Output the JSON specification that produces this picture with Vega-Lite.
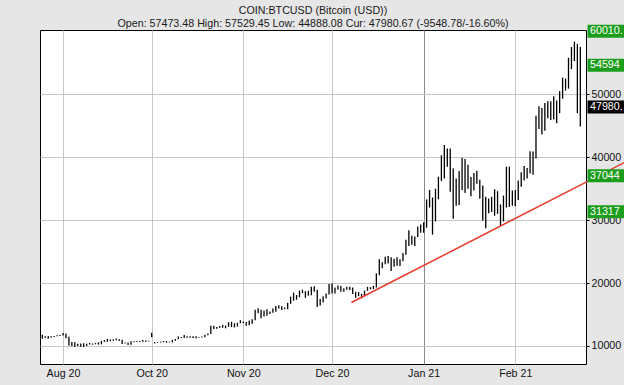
{
"$schema": "https://vega.github.io/schema/vega-lite/v6.json",
"width": 546, "height": 334,
"autosize": {"type": "none"},
"padding": {"left": 40, "top": 30, "right": 38, "bottom": 21},
"background": "#e6e6e6",
"config": {"view": {"fill": "white", "stroke": "black", "strokeWidth": 1}, "font": "Liberation Sans"},
"title": {"text": "COIN:BTCUSD (Bitcoin (USD))", "subtitle": "Open: 57473.48 High: 57529.45 Low: 44888.08 Cur: 47980.67 (-9548.78/-16.60%)", "anchor": "middle", "frame": "group", "font": "Liberation Sans", "fontSize": 10.7, "fontWeight": "normal", "color": "#1a1a1a", "subtitleFont": "Liberation Sans", "subtitleFontSize": 10.7, "subtitleColor": "#1a1a1a", "subtitlePadding": 2, "offset": -5},
"layer": [
{"data": {"values": [
{"d":"2020-08-25","h":11770,"l":11130},{"d":"2020-08-26","h":11540,"l":11260},{"d":"2020-08-27","h":11590,"l":11140},{"d":"2020-08-28","h":11550,"l":11290},{"d":"2020-08-29","h":11580,"l":11440},{"d":"2020-08-30","h":11720,"l":11540},{"d":"2020-08-31","h":11760,"l":11590},
{"d":"2020-09-01","h":12080,"l":11660},{"d":"2020-09-02","h":11970,"l":11220},{"d":"2020-09-03","h":11460,"l":10080},{"d":"2020-09-04","h":10650,"l":10000},{"d":"2020-09-05","h":10580,"l":9880},{"d":"2020-09-06","h":10350,"l":10000},{"d":"2020-09-07","h":10400,"l":9880},{"d":"2020-09-08","h":10440,"l":9850},{"d":"2020-09-09","h":10350,"l":10000},{"d":"2020-09-10","h":10500,"l":10220},{"d":"2020-09-11","h":10390,"l":10200},{"d":"2020-09-12","h":10460,"l":10270},{"d":"2020-09-13","h":10580,"l":10220},{"d":"2020-09-14","h":10800,"l":10260},{"d":"2020-09-15","h":10940,"l":10650},{"d":"2020-09-16","h":11100,"l":10670},{"d":"2020-09-17","h":11040,"l":10760},{"d":"2020-09-18","h":11050,"l":10820},{"d":"2020-09-19","h":11180,"l":10900},{"d":"2020-09-20","h":11080,"l":10800},{"d":"2020-09-21","h":10990,"l":10310},{"d":"2020-09-22","h":10550,"l":10380},{"d":"2020-09-23","h":10540,"l":10140},{"d":"2020-09-24","h":10770,"l":10200},{"d":"2020-09-25","h":10760,"l":10600},{"d":"2020-09-26","h":10740,"l":10640},{"d":"2020-09-27","h":10800,"l":10630},{"d":"2020-09-28","h":10950,"l":10690},{"d":"2020-09-29","h":10860,"l":10650},{"d":"2020-09-30","h":10840,"l":10700},
{"d":"2020-10-01","h":12100,"l":11380},{"d":"2020-10-02","h":10620,"l":10400},{"d":"2020-10-03","h":10600,"l":10500},{"d":"2020-10-04","h":10700,"l":10550},{"d":"2020-10-05","h":10800,"l":10600},{"d":"2020-10-06","h":10800,"l":10530},{"d":"2020-10-07","h":10690,"l":10560},{"d":"2020-10-08","h":10960,"l":10570},{"d":"2020-10-09","h":11100,"l":10820},{"d":"2020-10-10","h":11500,"l":11060},{"d":"2020-10-11","h":11440,"l":11260},{"d":"2020-10-12","h":11730,"l":11270},{"d":"2020-10-13","h":11560,"l":11310},{"d":"2020-10-14","h":11550,"l":11300},{"d":"2020-10-15","h":11530,"l":11270},{"d":"2020-10-16","h":11530,"l":11230},{"d":"2020-10-17","h":11420,"l":11300},{"d":"2020-10-18","h":11500,"l":11350},{"d":"2020-10-19","h":11800,"l":11400},{"d":"2020-10-20","h":12000,"l":11700},{"d":"2020-10-21","h":13200,"l":11900},{"d":"2020-10-22","h":13200,"l":12700},{"d":"2020-10-23","h":13030,"l":12720},{"d":"2020-10-24","h":13160,"l":12880},{"d":"2020-10-25","h":13350,"l":12900},{"d":"2020-10-26","h":13250,"l":12800},{"d":"2020-10-27","h":13780,"l":13050},{"d":"2020-10-28","h":13850,"l":13000},{"d":"2020-10-29","h":13620,"l":12950},{"d":"2020-10-30","h":13700,"l":13100},{"d":"2020-10-31","h":14100,"l":13620},
{"d":"2020-11-01","h":13900,"l":13600},{"d":"2020-11-02","h":13820,"l":13200},{"d":"2020-11-03","h":14050,"l":13300},{"d":"2020-11-04","h":14250,"l":13550},{"d":"2020-11-05","h":15750,"l":14100},{"d":"2020-11-06","h":15980,"l":15200},{"d":"2020-11-07","h":15770,"l":14400},{"d":"2020-11-08","h":15650,"l":14700},{"d":"2020-11-09","h":15850,"l":14800},{"d":"2020-11-10","h":15470,"l":15080},{"d":"2020-11-11","h":15950,"l":15270},{"d":"2020-11-12","h":16350,"l":15430},{"d":"2020-11-13","h":16480,"l":15960},{"d":"2020-11-14","h":16320,"l":15720},{"d":"2020-11-15","h":16100,"l":15850},{"d":"2020-11-16","h":16880,"l":15850},{"d":"2020-11-17","h":17850,"l":16700},{"d":"2020-11-18","h":18480,"l":17200},{"d":"2020-11-19","h":18100,"l":17350},{"d":"2020-11-20","h":18800,"l":17750},{"d":"2020-11-21","h":18950,"l":18400},{"d":"2020-11-22","h":18700,"l":17650},{"d":"2020-11-23","h":18770,"l":18000},{"d":"2020-11-24","h":19400,"l":18050},{"d":"2020-11-25","h":19480,"l":18600},{"d":"2020-11-26","h":18930,"l":16200},{"d":"2020-11-27","h":17450,"l":16450},{"d":"2020-11-28","h":17900,"l":16900},{"d":"2020-11-29","h":18350,"l":17550},{"d":"2020-11-30","h":19860,"l":18180},
{"d":"2020-12-01","h":19920,"l":18330},{"d":"2020-12-02","h":19300,"l":18350},{"d":"2020-12-03","h":19600,"l":18950},{"d":"2020-12-04","h":19550,"l":18600},{"d":"2020-12-05","h":19160,"l":18600},{"d":"2020-12-06","h":19420,"l":18930},{"d":"2020-12-07","h":19400,"l":18900},{"d":"2020-12-08","h":19300,"l":18250},{"d":"2020-12-09","h":18630,"l":17650},{"d":"2020-12-10","h":18560,"l":17920},{"d":"2020-12-11","h":18280,"l":17580},{"d":"2020-12-12","h":18800,"l":17900},{"d":"2020-12-13","h":19400,"l":18760},{"d":"2020-12-14","h":19350,"l":19000},{"d":"2020-12-15","h":19560,"l":19050},{"d":"2020-12-16","h":21550,"l":19300},{"d":"2020-12-17","h":23770,"l":21250},{"d":"2020-12-18","h":23300,"l":22350},{"d":"2020-12-19","h":24170,"l":23000},{"d":"2020-12-20","h":24300,"l":23100},{"d":"2020-12-21","h":24100,"l":21900},{"d":"2020-12-22","h":23850,"l":22600},{"d":"2020-12-23","h":24100,"l":22750},{"d":"2020-12-24","h":23800,"l":22700},{"d":"2020-12-25","h":24780,"l":23450},{"d":"2020-12-26","h":26870,"l":24500},{"d":"2020-12-27","h":28400,"l":25900},{"d":"2020-12-28","h":27500,"l":26100},{"d":"2020-12-29","h":27400,"l":25900},{"d":"2020-12-30","h":29000,"l":27330},{"d":"2020-12-31","h":29300,"l":28000},
{"d":"2021-01-01","h":29650,"l":28000},{"d":"2021-01-02","h":33300,"l":28800},{"d":"2021-01-03","h":34800,"l":32000},{"d":"2021-01-04","h":33600,"l":27700},{"d":"2021-01-05","h":35000,"l":29800},{"d":"2021-01-06","h":36900,"l":33300},{"d":"2021-01-07","h":40300,"l":36200},{"d":"2021-01-08","h":41950,"l":36600},{"d":"2021-01-09","h":41400,"l":38500},{"d":"2021-01-10","h":41400,"l":34500},{"d":"2021-01-11","h":38200,"l":30200},{"d":"2021-01-12","h":36600,"l":32300},{"d":"2021-01-13","h":37800,"l":32400},{"d":"2021-01-14","h":39900,"l":34800},{"d":"2021-01-15","h":39700,"l":34300},{"d":"2021-01-16","h":38800,"l":35000},{"d":"2021-01-17","h":36850,"l":33800},{"d":"2021-01-18","h":37500,"l":34700},{"d":"2021-01-19","h":37850,"l":35800},{"d":"2021-01-20","h":36400,"l":33400},{"d":"2021-01-21","h":35500,"l":29950},{"d":"2021-01-22","h":33700,"l":28700},{"d":"2021-01-23","h":33450,"l":31100},{"d":"2021-01-24","h":33700,"l":31300},{"d":"2021-01-25","h":34900,"l":30700},{"d":"2021-01-26","h":34600,"l":31000},{"d":"2021-01-27","h":32500,"l":29100},{"d":"2021-01-28","h":33900,"l":29800},{"d":"2021-01-29","h":38500,"l":32000},{"d":"2021-01-30","h":38500,"l":32100},{"d":"2021-01-31","h":34700,"l":32300},
{"d":"2021-02-01","h":34800,"l":32200},{"d":"2021-02-02","h":36300,"l":33200},{"d":"2021-02-03","h":37600,"l":35300},{"d":"2021-02-04","h":38600,"l":36300},{"d":"2021-02-05","h":38300,"l":36600},{"d":"2021-02-06","h":40950,"l":37400},{"d":"2021-02-07","h":40900,"l":37200},{"d":"2021-02-08","h":46600,"l":39800},{"d":"2021-02-09","h":48100,"l":44500},{"d":"2021-02-10","h":47800,"l":43600},{"d":"2021-02-11","h":48600,"l":44200},{"d":"2021-02-12","h":48900,"l":46200},{"d":"2021-02-13","h":48900,"l":45900},{"d":"2021-02-14","h":49700,"l":46000},{"d":"2021-02-15","h":49000,"l":45400},{"d":"2021-02-16","h":50500,"l":47000},{"d":"2021-02-17","h":52650,"l":49300},{"d":"2021-02-18","h":52500,"l":50600},{"d":"2021-02-19","h":55800,"l":50900},{"d":"2021-02-20","h":57500,"l":54000},{"d":"2021-02-21","h":58350,"l":55300},{"d":"2021-02-22","h":58000,"l":47000},{"d":"2021-02-23","h":57529.45,"l":44888.08}
]},
"mark": {"type": "rule", "color": "black", "strokeWidth": 1.3},
"encoding": {
"x": {"field": "d", "type": "temporal",
 "scale": {"type": "utc", "domain": [{"year": 2020, "month": 8, "date": 24, "hours": 5, "minutes": 16, "utc": true}, {"year": 2021, "month": 2, "date": 24, "hours": 22, "minutes": 4, "utc": true}]},
 "axis": {"title": null, "values": [{"year": 2020, "month": 9, "date": 1, "utc": true}, {"year": 2020, "month": 10, "date": 1, "utc": true}, {"year": 2020, "month": 11, "date": 1, "utc": true}, {"year": 2020, "month": 12, "date": 1, "utc": true}, {"year": 2021, "month": 1, "date": 1, "utc": true}, {"year": 2021, "month": 2, "date": 1, "utc": true}],
  "labelExpr": "utcmonth(datum.value) == 8 ? 'Aug 20' : utcFormat(datum.value, '%b %y')",
  "grid": true, "gridColor": {"condition": {"test": "utcmonth(datum.value) == 0", "value": "#8a8a8a"}, "value": "#c6c6c6"},
  "ticks": false, "domain": false, "labelFont": "Liberation Sans", "labelFontSize": 10.7, "labelColor": "#111111", "labelPadding": 4}},
"y": {"field": "l", "type": "quantitative",
 "scale": {"domain": [7136, 60215], "nice": false, "zero": false},
 "axis": {"title": null, "orient": "right", "values": [10000, 15000, 20000, 25000, 30000, 35000, 40000, 45000, 50000, 55000], "format": "d",
  "labelExpr": "datum.value % 10000 == 0 ? datum.label : ''",
  "grid": true, "gridColor": "#c6c6c6", "gridOpacity": {"condition": {"test": "datum.value % 10000 != 0", "value": 0}, "value": 1},
  "tickSize": 3, "tickColor": "#000000", "domain": false, "labelFont": "Liberation Sans", "labelFontSize": 10.7, "labelColor": "#111111", "labelPadding": 2}},
"y2": {"field": "h"}
}},
{"data": {"values": [{"d": "2020-12-07T13:30:00Z", "v": 16909}, {"d": "2021-03-10T00:00:00Z", "v": 39174}]},
"mark": {"type": "line", "color": "#e83a2a", "strokeWidth": 1.5, "clip": false},
"encoding": {"x": {"field": "d", "type": "temporal"}, "y": {"field": "v", "type": "quantitative"}}},
{"data": {"name": "levels", "values": [{"v": 60010, "t": "60010.", "k": "level"}, {"v": 54594, "t": "54594", "k": "level"}, {"v": 47980.67, "t": "47980.", "k": "current"}, {"v": 37044, "t": "37044", "k": "level"}, {"v": 31317, "t": "31317", "k": "level"}]},
"layer": [
{"mark": {"type": "tick", "orient": "horizontal", "size": 40, "thickness": 13, "clip": false, "opacity": 1},
 "encoding": {"x": {"datum": {"year": 2021, "month": 3, "date": 4, "hours": 5, "utc": true}, "type": "temporal"}, "y": {"field": "v", "type": "quantitative"},
  "color": {"field": "k", "type": "nominal", "scale": {"domain": ["level", "current"], "range": ["#1c9e1c", "#000000"]}, "legend": null}}},
{"mark": {"type": "text", "align": "left", "baseline": "middle", "color": "white", "font": "Liberation Sans", "fontSize": 10.7, "clip": false},
 "encoding": {"x": {"datum": {"year": 2021, "month": 2, "date": 26, "hours": 6, "minutes": 30, "utc": true}, "type": "temporal"}, "y": {"field": "v", "type": "quantitative"}, "text": {"field": "t"}}}
]}
]
}
